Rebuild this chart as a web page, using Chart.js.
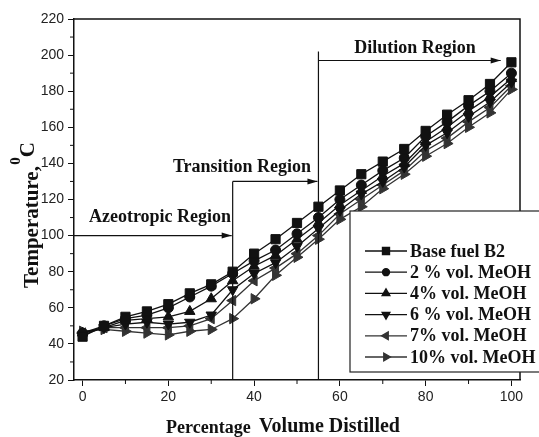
<!DOCTYPE html>
<html>
<head>
<meta charset="utf-8">
<script src="https://cdn.jsdelivr.net/npm/chart.js@4.4.0/dist/chart.umd.min.js"></script>
<style>
  html, body { margin: 0; padding: 0; background: #fff; }
</style>
</head>
<body>
<canvas id="distillationChart" width="539" height="437"></canvas>
<script>
const volumeDistilled = [0, 5, 10, 15, 20, 25, 30, 35, 40, 45, 50, 55, 60, 65, 70, 75, 80, 85, 90, 95, 100];

const baseFuelB2 = [44, 50, 55, 58, 62, 68, 73, 80, 90, 98, 107, 116, 125, 134, 141, 148, 158, 167, 175, 184, 196];
const meoh2 = [46, 50, 54, 56, 60, 66, 72, 79, 86, 92, 101, 110, 120, 128, 136, 143, 155, 163, 172, 180, 190];
const meoh4 = [46, 49, 53, 54, 55, 58, 65, 75, 83, 89, 98, 107, 117, 125, 133, 140, 152, 160, 169, 177, 187];
const meoh6 = [45, 49, 51, 52, 51, 52, 56, 70, 79, 85, 94, 104, 114, 123, 130, 138, 150, 157, 166, 174, 185];
const meoh7 = [46, 49, 49, 49, 49, 50, 54, 64, 75, 82, 90, 100, 112, 120, 128, 136, 147, 154, 163, 171, 183];
const meoh10 = [47, 48, 47, 46, 45, 47, 48, 54, 65, 78, 88, 98, 109, 116, 126, 134, 144, 151, 160, 168, 181];

const seriesLabels = ['Base fuel B2', '2 % vol. MeOH', '4% vol. MeOH', '6 % vol. MeOH', '7% vol. MeOH', '10% vol. MeOH'];
const xTickValues = [0, 20, 40, 60, 80, 100];
const xMinorTicks = [10, 30, 50, 70, 90];
const yMinorTicks = [30, 50, 70, 90, 110, 130, 150, 170, 190, 210];

// region boundaries (x in % distilled, y in temperature)
const azeotropicEnd = 35;
const transitionEnd = 55;
const regionArrowLevels = [100, 130, 197];

const serif = px => 'bold ' + px + 'px "Liberation Serif", "Times New Roman", serif';

function pts(values) {
  return values.map((v, i) => ({ x: volumeDistilled[i], y: v }));
}

function makeSet(label, values, style, rotation, radius, color) {
  return {
    label: label,
    data: pts(values),
    borderColor: color,
    backgroundColor: color,
    borderWidth: 1.3,
    pointStyle: style,
    rotation: rotation,
    pointRadius: radius,
    pointBorderWidth: 1,
    pointBorderColor: color,
    pointBackgroundColor: color,
    tension: 0,
  };
}

function arrow(ctx, x1, y1, x2, y2) {
  ctx.beginPath();
  ctx.moveTo(x1, y1);
  ctx.lineTo(x2, y2);
  ctx.stroke();
  const a = Math.atan2(y2 - y1, x2 - x1);
  const len = 10, hw = 3;
  ctx.beginPath();
  ctx.moveTo(x2, y2);
  ctx.lineTo(x2 - len * Math.cos(a) + hw * Math.sin(a), y2 - len * Math.sin(a) - hw * Math.cos(a));
  ctx.lineTo(x2 - len * Math.cos(a) - hw * Math.sin(a), y2 - len * Math.sin(a) + hw * Math.cos(a));
  ctx.closePath();
  ctx.fill();
}

const decorations = {
  id: 'decorations',
  afterDatasetsDraw(chart) {
    const ctx = chart.ctx;
    const xs = chart.scales.x, ys = chart.scales.y;
    const area = chart.chartArea;
    ctx.save();
    ctx.strokeStyle = '#111';
    ctx.fillStyle = '#111';

    // frame top and right
    ctx.lineWidth = 1.5;
    ctx.beginPath();
    ctx.moveTo(area.left, area.top);
    ctx.lineTo(area.right, area.top);
    ctx.lineTo(area.right, area.bottom);
    ctx.stroke();

    // minor ticks
    ctx.lineWidth = 1;
    ctx.beginPath();
    xMinorTicks.forEach(v => {
      const px = xs.getPixelForValue(v);
      ctx.moveTo(px, area.bottom);
      ctx.lineTo(px, area.bottom + 4);
    });
    yMinorTicks.forEach(v => {
      const py = ys.getPixelForValue(v);
      ctx.moveTo(area.left, py);
      ctx.lineTo(area.left - 4, py);
    });
    ctx.stroke();

    // region lines and arrows
    ctx.lineWidth = 1.2;
    const xA = xs.getPixelForValue(azeotropicEnd);
    const xT = xs.getPixelForValue(transitionEnd);
    ctx.beginPath();
    ctx.moveTo(xA, area.bottom);
    ctx.lineTo(xA, ys.getPixelForValue(regionArrowLevels[1]));
    ctx.moveTo(xT, area.bottom);
    ctx.lineTo(xT, ys.getPixelForValue(202));
    ctx.stroke();
    arrow(ctx, area.left, ys.getPixelForValue(regionArrowLevels[0]), xA - 1, ys.getPixelForValue(regionArrowLevels[0]));
    arrow(ctx, xA, ys.getPixelForValue(regionArrowLevels[1]), xT - 1, ys.getPixelForValue(regionArrowLevels[1]));
    arrow(ctx, xT, ys.getPixelForValue(regionArrowLevels[2]), xs.getPixelForValue(97.5), ys.getPixelForValue(regionArrowLevels[2]));

    // region labels
    ctx.textAlign = 'center';
    ctx.textBaseline = 'alphabetic';
    ctx.font = serif(18);
    ctx.fillText('Azeotropic Region', 160, 222);
    ctx.fillText('Transition Region', 242, 172);
    ctx.fillText('Dilution Region', 415, 53);

    // legend box
    ctx.fillStyle = '#fff';
    ctx.fillRect(350, 211, 200, 161);
    ctx.strokeStyle = '#222';
    ctx.lineWidth = 1.2;
    ctx.strokeRect(350, 211, 200, 161);

    chart.data.datasets.forEach((ds, i) => {
      const y = 251 + i * 21.2;
      ctx.strokeStyle = ds.borderColor;
      ctx.fillStyle = ds.borderColor;
      ctx.lineWidth = 1.3;
      ctx.beginPath();
      ctx.moveTo(365, y);
      ctx.lineTo(407, y);
      ctx.stroke();
      Chart.helpers.drawPoint(ctx, {
        pointStyle: ds.pointStyle,
        rotation: ds.rotation,
        radius: ds.pointRadius - 1.5,
        borderWidth: 1,
      }, 386, y);
      ctx.fillStyle = '#111';
      ctx.textAlign = 'left';
      ctx.textBaseline = 'middle';
      ctx.font = serif(18);
      ctx.fillText(ds.label, 410, y + 1);
    });

    // axis titles
    ctx.fillStyle = '#111';
    ctx.textBaseline = 'alphabetic';
    ctx.textAlign = 'left';
    ctx.font = serif(18);
    ctx.fillText('Percentage', 166, 433);
    ctx.font = serif(20);
    ctx.fillText('Volume Distilled', 259, 432);

    ctx.translate(38, 288);
    ctx.rotate(-Math.PI / 2);
    ctx.font = serif(21);
    const main = 'Temperature, ';
    ctx.fillText(main, 0, 0);
    let w = ctx.measureText(main).width;
    ctx.font = serif(15);
    ctx.fillText('0', w - 4, -18);
    w += ctx.measureText('0').width;
    ctx.font = serif(21);
    ctx.fillText('C', w - 4, -4);
    ctx.restore();
  }
};

const tickFont = { family: '"Liberation Sans", Arial, sans-serif', size: 14 };

new Chart(document.getElementById('distillationChart'), {
  type: 'line',
  data: {
    datasets: [
      makeSet(seriesLabels[0], baseFuelB2, 'rect', 0, 6.5, '#111'),
      makeSet(seriesLabels[1], meoh2, 'circle', 0, 5, '#111'),
      makeSet(seriesLabels[2], meoh4, 'triangle', 0, 6, '#111'),
      makeSet(seriesLabels[3], meoh6, 'triangle', 180, 6, '#111'),
      makeSet(seriesLabels[4], meoh7, 'triangle', -90, 6, '#333'),
      makeSet(seriesLabels[5], meoh10, 'triangle', 90, 6, '#333'),
    ],
  },
  options: {
    responsive: false,
    animation: false,
    devicePixelRatio: 1,
    layout: { padding: { top: 19, right: 19, left: 0, bottom: 0 } },
    plugins: {
      legend: { display: false },
      tooltip: { enabled: false },
    },
    scales: {
      x: {
        type: 'linear',
        min: -2,
        max: 102,
        afterBuildTicks: scale => { scale.ticks = xTickValues.map(v => ({ value: v })); },
        afterFit: scale => { scale.height = 57; },
        grid: { drawOnChartArea: false, drawTicks: true, tickLength: 6, color: '#111', tickWidth: 1 },
        border: { display: true, color: '#111', width: 1.5 },
        ticks: { font: tickFont, color: '#222', padding: 3, maxRotation: 0 },
      },
      y: {
        min: 20,
        max: 220,
        afterFit: scale => { scale.width = 74; },
        grid: { drawOnChartArea: false, drawTicks: true, tickLength: 6, color: '#111', tickWidth: 1 },
        border: { display: true, color: '#111', width: 1.5 },
        ticks: { stepSize: 20, font: tickFont, color: '#222', padding: 4 },
      },
    },
  },
  plugins: [decorations],
});
</script>
</body>
</html>
